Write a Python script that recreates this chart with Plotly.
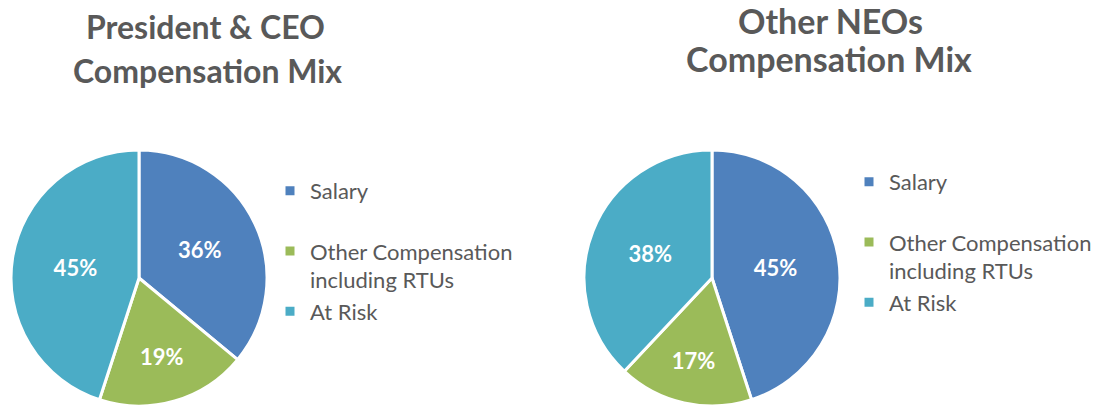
import plotly.graph_objects as go

categories = ["Salary", "Other Compensation<br>including RTUs", "At Risk"]
ceo_values = [36, 19, 45]
neo_values = [45, 17, 38]
colors = ["#4F81BD", "#9BBB59", "#4BACC6"]
ceo_title = ["President & CEO", "Compensation Mix"]
neo_title = ["Other NEOs", "Compensation Mix"]

W, H = 1099, 406
FONT = "Lato, 'Open Sans', sans-serif"
GREY = "#595959"

# legend labels: blank line after "Salary" like the reference; the second pie gets
# an invisible suffix so its legend entries are not merged with the first pie's
ceo_labels = [categories[0] + "<br>\u00a0", categories[1], categories[2]]
neo_labels = [l + "\u200b" for l in ceo_labels]

fig = go.Figure()

def add_pie(labels, values, xdom, legend):
    fig.add_trace(go.Pie(
        labels=labels, values=values, sort=False, direction="clockwise",
        rotation=0, marker=dict(colors=colors, line=dict(color="white", width=3)),
        texttemplate="<b>%{percent:.0%}</b>",
        textposition="inside", insidetextorientation="horizontal",
        textfont=dict(color="white", size=22, family=FONT),
        domain=dict(x=xdom, y=[0, (H - 150) / H]),
        legend=legend, hoverinfo="label+percent",
    ))

add_pie(ceo_labels, ceo_values, [11 / W, 267 / W], "legend")
add_pie(neo_labels, neo_values, [584 / W, 840 / W], "legend2")

leg_common = dict(
    font=dict(family=FONT, size=22, color=GREY), valign="top",
    bgcolor="rgba(0,0,0,0)", xanchor="left", yanchor="top",
)

def title_ann(text, x, y, size):
    return dict(text="<b>" + text + "</b>", x=x / W, y=1 - y / H, xref="paper", yref="paper",
                showarrow=False, font=dict(family=FONT, size=size, color=GREY),
                xanchor="center", yanchor="middle")

fig.update_layout(
    width=W, height=H, margin=dict(l=0, r=0, t=0, b=0),
    paper_bgcolor="white", plot_bgcolor="white",
    showlegend=True,
    legend=dict(x=270 / W, y=1 - 170 / H, **leg_common),
    legend2=dict(x=849 / W, y=1 - 161 / H, **leg_common),
    annotations=[
        title_ann(ceo_title[0], 205, 27, 32),
        title_ann(ceo_title[1], 207, 71, 32),
        title_ann(neo_title[0], 830, 20, 34),
        title_ann(neo_title[1], 829, 59, 34),
    ],
)

fig.write_html("out.html", config={"displayModeBar": False},
               post_script="document.body.style.margin='0px';")
